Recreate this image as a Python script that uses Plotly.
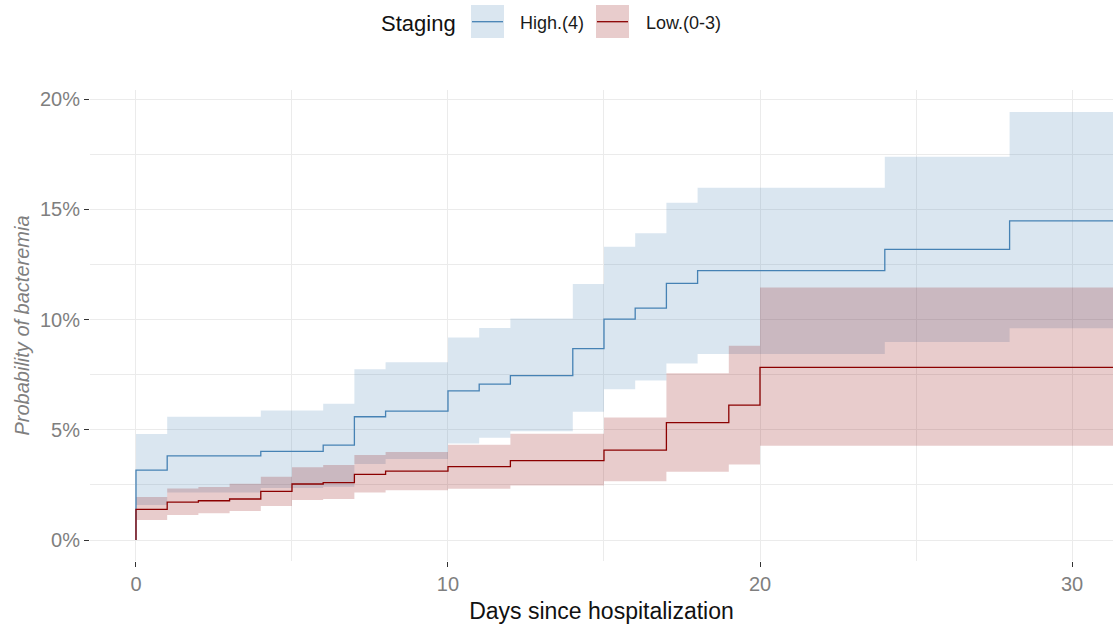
import plotly.graph_objects as go

# ---------------- data (cumulative incidence, %) ----------------
follow_up_end = 31.6

high_times = [0, 1, 4, 6, 7, 8, 10, 11, 12, 14, 15, 16, 17, 18, 24, 28]
high_est = [3.17, 3.82, 4.02, 4.30, 5.59, 5.85, 6.76, 7.07, 7.46, 8.68, 10.02, 10.52, 11.64, 12.22, 13.18, 14.47]
high_upper = [4.81, 5.59, 5.87, 6.18, 7.75, 8.06, 9.19, 9.61, 10.05, 11.61, 13.30, 13.91, 15.30, 15.98, 17.38, 19.41]
high_lower = [1.59, 2.15, 2.36, 2.42, 3.45, 3.67, 4.38, 4.64, 4.93, 5.82, 6.84, 7.24, 8.01, 8.44, 8.98, 9.60]

low_times = [0, 1, 2, 3, 4, 5, 6, 7, 8, 10, 12, 15, 17, 19, 20]
low_est = [1.39, 1.72, 1.78, 1.86, 2.21, 2.54, 2.60, 2.98, 3.12, 3.33, 3.60, 4.08, 5.32, 6.12, 7.83]
low_upper = [1.95, 2.34, 2.40, 2.55, 2.87, 3.30, 3.40, 3.85, 3.99, 4.32, 4.82, 5.56, 7.56, 8.81, 11.45]
low_lower = [0.91, 1.13, 1.21, 1.32, 1.54, 1.81, 1.86, 2.15, 2.26, 2.33, 2.47, 2.67, 3.10, 3.43, 4.28]

group_names = ["High.(4)", "Low.(0-3)"]
legend_title = "Staging"
x_title = "Days since hospitalization"
y_title = "Probability of bacteremia"
x_ticks = [0, 10, 20, 30]
y_ticks = [0, 0.05, 0.10, 0.15, 0.20]

# ---------------- styling ----------------
line_colors = ["#4682B4", "#8B0000"]
fill_colors = ["rgba(70,130,180,0.2)", "rgba(139,0,0,0.2)"]
FONT = "Liberation Sans, Arial, sans-serif"
W, H = 1113, 625
ML, MR, MT, MB = 90, 0, 90, 64


def frac(v):
    return [p / 100.0 for p in v]


def step_xy(times, vals, start_zero=False):
    xs = list(times) + [follow_up_end]
    ys = frac(vals) + [vals[-1] / 100.0]
    if start_zero:
        xs = [0] + xs
        ys = [0.0] + ys
    return xs, ys


fig = go.Figure()

groups = [
    (high_times, high_est, high_upper, high_lower),
    (low_times, low_est, low_upper, low_lower),
]

# ribbons
for i, (t, est, up, lo) in enumerate(groups):
    xu, yu = step_xy(t, up)
    xl, yl = step_xy(t, lo)
    fig.add_trace(go.Scatter(x=xu, y=yu, mode="lines", line=dict(width=0, shape="hv"),
                             showlegend=False, hoverinfo="skip"))
    fig.add_trace(go.Scatter(x=xl, y=yl, mode="lines", line=dict(width=0, shape="hv"),
                             fill="tonexty", fillcolor=fill_colors[i],
                             showlegend=False, hoverinfo="skip"))

# estimate lines
for i, (t, est, up, lo) in enumerate(groups):
    xe, ye = step_xy(t, est, start_zero=True)
    fig.add_trace(go.Scatter(x=xe, y=ye, mode="lines", name=group_names[i],
                             line=dict(color=line_colors[i], width=1.3, shape="hv"),
                             showlegend=False))

# ---------------- manual legend (top) ----------------
pw, ph = W - ML - MR, H - MT - MB


def px(xp):
    return (xp - ML) / pw


def py(yp):
    return (H - MB - yp) / ph


shapes = []
annotations = []
annotations.append(dict(text=legend_title, x=px(379), y=py(23), xref="paper", yref="paper",
                        xanchor="left", yanchor="middle", showarrow=False,
                        font=dict(family=FONT, size=22, color="#111111")))
key_specs = [(471, 504, 518), (596, 629, 644)]
for i, (k0, k1, tx) in enumerate(key_specs):
    shapes.append(dict(type="rect", xref="paper", yref="paper",
                       x0=px(k0), x1=px(k1), y0=py(38), y1=py(5),
                       fillcolor=fill_colors[i], line=dict(width=0), layer="above"))
    shapes.append(dict(type="line", xref="paper", yref="paper",
                       x0=px(k0 + 1), x1=px(k1 - 1), y0=py(21.7), y1=py(21.7),
                       line=dict(color=line_colors[i], width=1.3), layer="above"))
    annotations.append(dict(text=group_names[i], x=px(tx), y=py(23), xref="paper", yref="paper",
                            xanchor="left", yanchor="middle", showarrow=False,
                            font=dict(family=FONT, size=18, color="#1a1a1a")))

grid = "#EBEBEB"
fig.update_layout(
    width=W, height=H,
    margin=dict(l=ML, r=MR, t=MT, b=MB),
    paper_bgcolor="white", plot_bgcolor="white",
    font=dict(family=FONT),
    showlegend=False,
    shapes=shapes,
    annotations=annotations,
    xaxis=dict(
        range=[-1.474, (W - MR - 136) / 31.2],
        tickvals=x_ticks, ticktext=[str(v) for v in x_ticks],
        showgrid=True, gridcolor=grid, gridwidth=1,
        minor=dict(dtick=5, tick0=0, showgrid=True, gridcolor=grid, gridwidth=0.6, ticks=""),
        zeroline=False, showline=False,
        ticks="outside", ticklen=5, tickcolor="#333333", tickwidth=1,
        tickfont=dict(family=FONT, size=20, color="#7F7F7F"),
        title=dict(text=x_title, font=dict(family=FONT, size=23, color="#111111"), standoff=8),
    ),
    yaxis=dict(
        range=[-0.00952, 0.2041],
        tickvals=y_ticks, tickformat=".0%",
        showgrid=True, gridcolor=grid, gridwidth=1,
        minor=dict(dtick=0.025, tick0=0, showgrid=True, gridcolor=grid, gridwidth=0.6, ticks=""),
        zeroline=False, showline=False,
        ticks="outside", ticklen=5, tickcolor="#333333", tickwidth=1,
        tickfont=dict(family=FONT, size=20, color="#7F7F7F"),
        title=dict(text="<i>" + y_title + "</i>", font=dict(family=FONT, size=20, color="#7F7F7F"), standoff=4),
    ),
)

fig.write_html(
    "out.html",
    config={"displayModeBar": False},
    post_script="document.body.style.margin='0';document.body.style.overflow='hidden';",
)
